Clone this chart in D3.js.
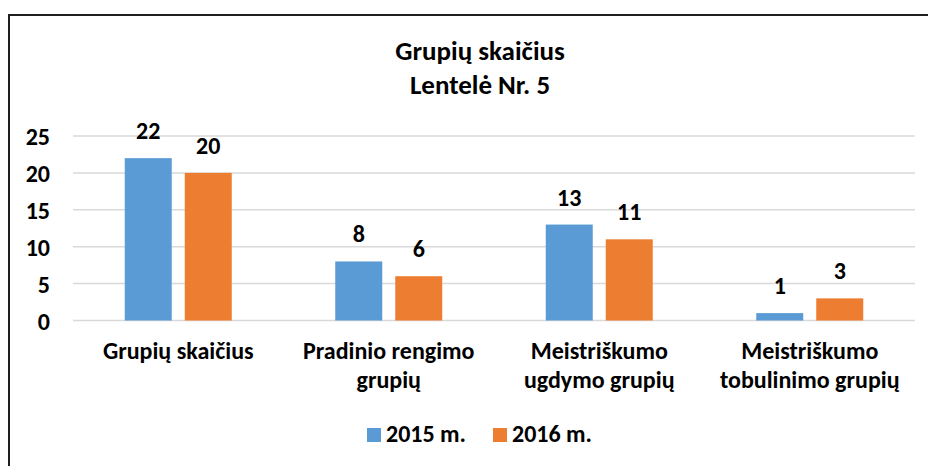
<!DOCTYPE html>
<html>
<head>
<meta charset="utf-8">
<script src="https://cdn.jsdelivr.net/npm/d3@7"></script>
<style>
    body { margin: 0; background: #fff; }
    svg text { font-family: Carlito, "Liberation Sans Narrow", "Open Sans", sans-serif; font-weight: bold; fill: #000; }
</style>
</head>
<body>
<div id="chart"></div>
<script>
// chart data
var categories = ['Grupių skaičius', 'Pradinio rengimo\ngrupių', 'Meistriškumo\nugdymo grupių', 'Meistriškumo\ntobulinimo grupių'];
var series = ['2015 m.', '2016 m.'];
var values2015 = [22, 8, 13, 1];
var values2016 = [20, 6, 11, 3];
var yTicks = [0, 5, 10, 15, 20, 25];
var titleLines = ['Grupių skaičius', 'Lentelė Nr. 5'];
var colors = ['#5b9bd5', '#ed7d31'];

var width = 928, height = 466;
var plot = {left: 73, right: 915, top: 136, bottom: 320.5};
var fontSize = '24px';

var svg = d3.select('#chart')
    .append('svg')
    .attr('width', width)
    .attr('height', height)
;

// outer frame, runs off the picture on the right and bottom
svg.append('rect')
    .attr('x', 9)
    .attr('y', 15)
    .attr('width', 1000)
    .attr('height', 500)
    .attr('fill', 'none')
    .attr('stroke', '#1e1e1e')
    .attr('stroke-width', 2)
;

svg.selectAll('.title')
    .data(titleLines)
    .enter()
    .append('text')
    .attr('class', 'title')
    .attr('x', 480)
    .attr('y', function (d, i) { return 60 + i * 34; })
    .attr('text-anchor', 'middle')
    .style('font-size', '27px')
    .text(function (d) { return d; })
;

var y = d3.scaleLinear()
    .domain([0, 25])
    .range([plot.bottom, plot.top]);

var x0 = d3.scaleBand()
    .domain(categories)
    .range([plot.left, plot.right]);

var groupWidth = 107;
var x1 = d3.scaleBand()
    .domain(series)
    .range([0, groupWidth])
    .paddingInner(13 / 60);

// gridlines
svg.append('g')
    .selectAll('line')
    .data(yTicks)
    .enter()
    .append('line')
    .attr('x1', plot.left)
    .attr('x2', plot.right)
    .attr('y1', function (d) { return y(d); })
    .attr('y2', function (d) { return y(d); })
    .attr('stroke', '#d9d9d9')
    .attr('stroke-width', 1.5)
;

var yAxis = svg.append('g')
    .attr('transform', 'translate(' + plot.left + ',0)')
    .call(d3.axisLeft(y).tickValues(yTicks).tickSize(0).tickPadding(23))
;
yAxis.select('.domain').remove();
yAxis.selectAll('text')
    .style('font-size', fontSize)
    .style('font-family', null)
    .attr('dy', '0.36em')
;

var rows = categories.map(function (c, i) {
    return {category: c, values: [values2015[i], values2016[i]]};
});

var groups = svg.selectAll('.group')
    .data(rows)
    .enter()
    .append('g')
    .attr('class', 'group')
    .attr('transform', function (d) {
        return 'translate(' + (x0(d.category) + (x0.bandwidth() - groupWidth) / 2) + ',0)';
    })
;

var bars = groups.selectAll('.bar')
    .data(function (d) {
        return d.values.map(function (v, j) { return {series: series[j], value: v, index: j}; });
    })
    .enter()
;

bars.append('rect')
    .attr('class', 'bar')
    .attr('x', function (d) { return x1(d.series); })
    .attr('y', function (d) { return y(d.value); })
    .attr('width', x1.bandwidth())
    .attr('height', function (d) { return y(0) - y(d.value); })
    .attr('fill', function (d) { return colors[d.index]; })
;

bars.append('text')
    .attr('x', function (d) { return x1(d.series) + x1.bandwidth() / 2; })
    .attr('y', function (d) { return y(d.value) - 19; })
    .attr('text-anchor', 'middle')
    .style('font-size', fontSize)
    .text(function (d) { return d.value; })
;

// category labels
var xAxis = svg.append('g')
    .attr('transform', 'translate(0,' + y(0) + ')')
    .call(d3.axisBottom(x0).tickSize(0).tickFormat(''))
;
xAxis.select('.domain').remove();
xAxis.selectAll('.tick').append('text')
    .attr('text-anchor', 'middle')
    .style('font-size', fontSize)
    .each(function (d) {
        var lines = d.split('\n');
        var t = d3.select(this);
        lines.forEach(function (line, i) {
            t.append('tspan')
                .attr('x', 0)
                .attr('y', 38 + i * 29)
                .text(line);
        });
    })
;

// legend
var legend = svg.append('g')
    .attr('transform', 'translate(367,442)');

var legendX = [0, 126];
series.forEach(function (s, i) {
    legend.append('rect')
        .attr('x', legendX[i])
        .attr('y', -14)
        .attr('width', 14)
        .attr('height', 14)
        .attr('fill', colors[i]);
    legend.append('text')
        .attr('x', legendX[i] + 19)
        .attr('y', 0)
        .style('font-size', fontSize)
        .text(s);
});
</script>
</body>
</html>
